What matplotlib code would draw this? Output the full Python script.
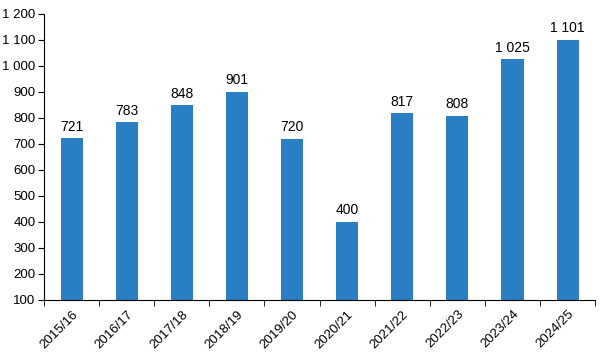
import matplotlib.pyplot as plt
import numpy as np

seasons = ["2015/16", "2016/17", "2017/18", "2018/19", "2019/20",
           "2020/21", "2021/22", "2022/23", "2023/24", "2024/25"]
values = [721, 783, 848, 901, 720, 400, 817, 808, 1025, 1101]


def fmt(v):
    return f"{v:,}".replace(",", " ")


plt.rcParams["font.family"] = ["Liberation Sans", "DejaVu Sans"]
fig = plt.figure(figsize=(6.03, 3.57), dpi=100)
ax = fig.add_axes([0.073, 0.16, 0.914, 0.801])

x = np.arange(len(seasons))
ax.bar(x, np.array(values) - 100, bottom=100, width=0.4, color="#2a7fc4")
for xi, v in zip(x, values):
    ax.text(xi, v + 18, fmt(v), ha="center", va="bottom", fontsize=10)

ax.set_xlim(-0.5, len(seasons) - 0.5)
ax.set_ylim(100, 1200)
ax.set_yticks(range(100, 1201, 100))
ax.set_yticklabels([fmt(v) for v in range(100, 1201, 100)], fontsize=9.5)
ax.set_xticks(x)
ax.set_xticklabels(seasons, rotation=45, ha="right", rotation_mode="anchor", fontsize=9.5)
ax.tick_params(axis="x", length=0, pad=6)
ax.set_xticks(np.arange(-0.5, len(seasons)), minor=True)
ax.tick_params(axis="x", which="minor", length=4, direction="out")
ax.tick_params(axis="y", length=4, direction="out", pad=2)
for s in ["top", "right"]:
    ax.spines[s].set_visible(False)

fig.savefig("out.png", dpi=100)
